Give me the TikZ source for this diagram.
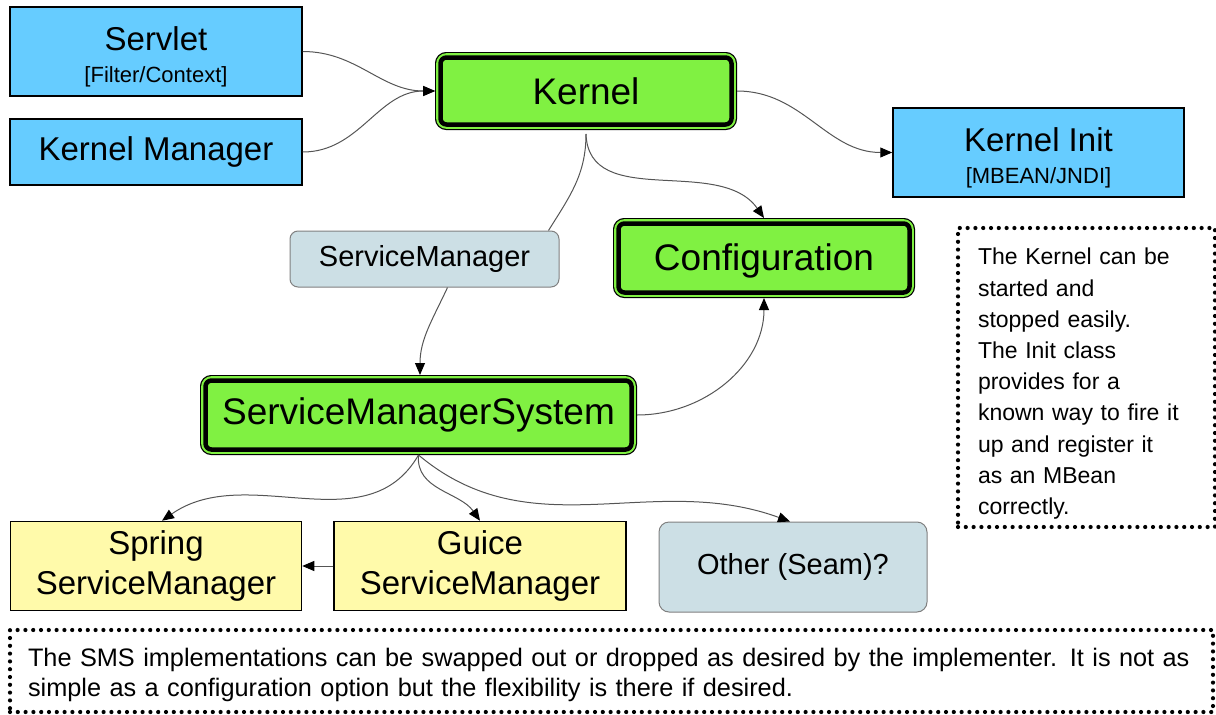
\documentclass[tikz,border=0pt]{standalone}
\usepackage{fontspec}
\setmainfont{Liberation Sans}
\usetikzlibrary{arrows.meta}
\definecolor{kblue}{HTML}{66CCFF}
\definecolor{kgreen}{HTML}{80F142}
\definecolor{kyellow}{HTML}{FFFAAA}
\definecolor{kgrey}{HTML}{CCDFE5}
\definecolor{kline}{HTML}{555555}
\begin{document}
\begin{tikzpicture}[x=1pt,y=1pt,
  bluebox/.style={draw=black, line width=1.5pt, fill=kblue, inner sep=0pt, align=center},
  yellowbox/.style={draw=black, line width=1.5pt, fill=kyellow, inner sep=0pt, align=center,
    font=\fontsize{33}{40}\selectfont},
  greybox/.style={draw=gray, line width=1pt, fill=kgrey, rounded corners=8pt, inner sep=0pt, align=center},
  greenbox/.style={rounded corners=6pt, fill=kgreen, draw=black, line width=4.5pt, outer sep=5.5pt,
    preaction={draw=black, line width=11pt}, preaction={draw=kgreen, line width=8.6pt},
    inner sep=0pt, font=\fontsize{37}{44}\selectfont},
  notebox/.style={draw=black, dash pattern=on 0pt off 7.8pt, line cap=round, line width=4.2pt,
    inner ysep=0pt, align=left},
  conn/.style={draw=kline, line width=1pt, -{Triangle[length=12pt,width=10pt,color=black]}},
  plain/.style={draw=kline, line width=1pt}
]
\useasboundingbox (0,0) rectangle (1216,-715);

% top-left inputs
\node[bluebox, minimum width=292pt, minimum height=89pt, font=\fontsize{33}{32}\selectfont] (sv) at (156,-51.5)
  {\rule{0pt}{35pt}Servlet\\{\fontsize{22}{24}\selectfont [Filter/Context]}};
\node[bluebox, minimum width=292pt, minimum height=66pt, font=\fontsize{33}{40}\selectfont] (km) at (156,-152)
  {Kernel Manager};
\node[bluebox, minimum width=291pt, minimum height=89pt, font=\fontsize{33}{32}\selectfont] (ki) at (1038.5,-152.5)
  {\rule{0pt}{35pt}Kernel Init\\{\fontsize{22}{24}\selectfont [MBEAN/JNDI]}};

% green core nodes
\node[greenbox, minimum width=291pt, minimum height=67pt] (k) at (586,-91) {Kernel};
\node[greenbox, minimum width=291pt, minimum height=69pt] (cfg) at (764,-258) {\rule{0pt}{33pt}Configuration};
\node[greenbox, minimum width=426pt, minimum height=69pt] (sms) at (418.5,-415) {ServiceManagerSystem};

% service manager label
\node[greybox, minimum width=269pt, minimum height=56pt, font=\fontsize{29}{34}\selectfont] (sm) at (424.5,-259) {ServiceManager};

% implementations
\node[yellowbox, minimum width=291pt, minimum height=89pt] (sp) at (156,-566) {Spring\\ServiceManager};
\node[yellowbox, minimum width=292pt, minimum height=89pt] (gu) at (480,-566) {Guice\\ServiceManager};
\node[greybox, minimum width=268pt, minimum height=90pt, rounded corners=10pt, font=\fontsize{29}{34}\selectfont] (ot) at (793,-567) {Other (Seam)?};

% notes
\node[notebox, minimum width=257pt, minimum height=299pt, text width=217pt, inner xsep=20pt,
  font=\fontsize{23}{31.2}\selectfont] (n1) at (1086.5,-377.5)
  {\rule{0pt}{29pt}The Kernel can be\\ started and\\ stopped easily.\\ The Init class\\ provides for a\\ known way to fire it\\ up and register it\\ as an MBean\\ correctly.};
\node[notebox, minimum width=1203pt, minimum height=82pt, text width=1167pt, inner xsep=18pt,
  font=\fontsize{25.3}{29.5}\selectfont] (n2) at (611.5,-671)
  {\rule{0pt}{26pt}The SMS implementations can be swapped out or dropped as desired by the implementer. It is not as\\ simple as a configuration option but the flexibility is there if desired.};

% connectors
\draw[conn] (sv.east) to[out=0,in=180] (k.west);
\draw[conn] (km.east) to[out=0,in=180] (k.west);
\draw[conn] (k.east) to[out=0,in=180] (ki.west);
\draw[conn] ([yshift=-4pt]k.south) to[out=-88,in=125] (cfg.north);
\draw[plain] ([yshift=-4pt]k.south) to[out=-90,in=58] ([xshift=-11pt]sm.north east);
\draw[conn] ([xshift=23pt]sm.south) to[out=-115,in=90] ([xshift=1.5pt]sms.north);
\draw[conn] (sms.east) to[out=0,in=-90] (cfg.south);
\draw[conn] (sms.south) to[out=-120,in=35] ([xshift=6pt]sp.north);
\draw[conn] (sms.south) to[out=-95,in=125] (gu.north);
\draw[conn] (sms.south) to[out=-40,in=160] ([xshift=-3pt]ot.north);
\draw[conn] (gu.west) -- (sp.east);
\end{tikzpicture}
\end{document}
